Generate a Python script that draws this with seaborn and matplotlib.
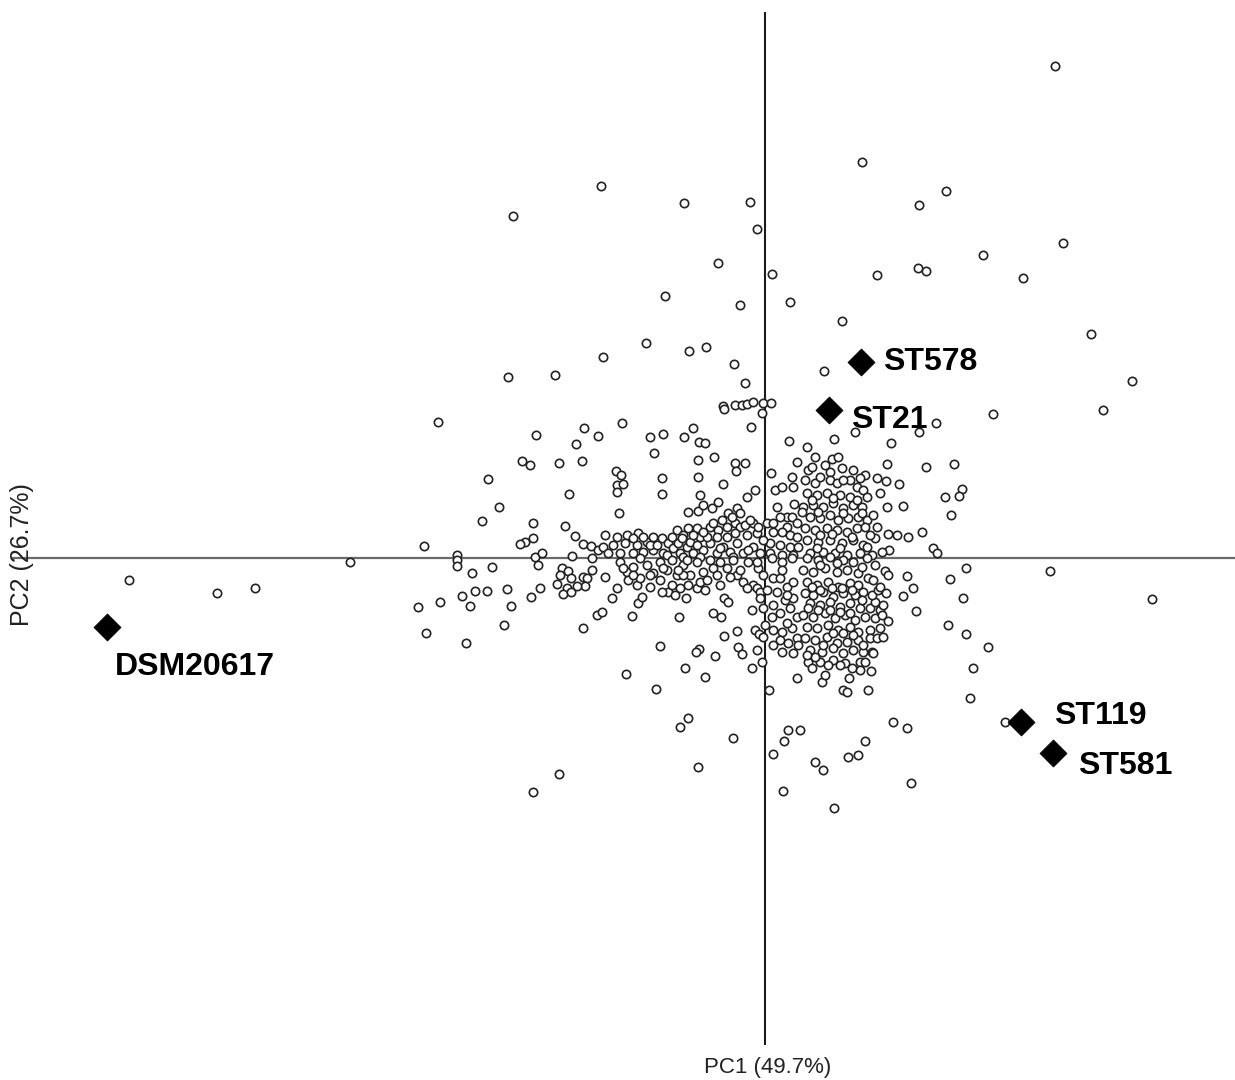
import matplotlib
matplotlib.use("Agg")
import matplotlib.pyplot as plt
import seaborn as sns
import pandas as pd

# PCA scores (PC1, PC2) of the isolates, grouped by area of the score plot
outer_upper = [
    (2.90, 4.92), (0.97, 3.96), (-1.64, 3.72), (1.81, 3.67), (1.54, 3.53), (-0.81, 3.55),
    (-0.15, 3.56), (-2.52, 3.42), (-0.08, 3.29), (2.98, 3.15), (2.18, 3.03), (-0.47, 2.95),
    (0.07, 2.84), (1.53, 2.90), (1.61, 2.87), (1.12, 2.83), (2.58, 2.80), (-1.00, 2.62),
    (-0.25, 2.53), (0.25, 2.56), (0.77, 2.37), (3.26, 2.24), (-1.19, 2.15), (-0.76, 2.07),
    (-0.59, 2.11), (-1.62, 2.01), (-0.31, 1.94), (0.59, 1.87), (-2.57, 1.81), (-2.10, 1.83),
    (3.67, 1.77), (-0.20, 1.75), (3.38, 1.48), (2.28, 1.44),
]

upper_left = [
    (-3.27, 1.36), (-2.29, 1.23), (-1.81, 1.30), (-1.67, 1.22), (-1.89, 1.14), (-2.43, 0.97),
    (-2.35, 0.93), (-2.06, 0.95), (-1.83, 0.97), (-2.77, 0.79), (-1.96, 0.64), (-2.66, 0.51),
    (-2.83, 0.37), (-2.32, 0.35), (-2.00, 0.32), (-1.90, 0.22), (-2.32, 0.20), (-2.40, 0.16),
    (-2.45, 0.14), (-1.82, 0.14), (-1.74, 0.12), (-3.41, 0.12), (-3.08, 0.03), (-2.30, 0.01),
    (-2.23, 0.05), (-1.93, 0.02), (-1.73, 0.00), (-1.67, 0.08),
]

upper_mid = [
    (-0.42, 1.52), (-0.41, 1.49), (-0.30, 1.53), (-0.23, 1.53), (-0.18, 1.54), (-0.12, 1.56),
    (-0.02, 1.55), (0.06, 1.55), (-0.03, 1.45), (-1.43, 1.35), (-1.15, 1.21), (-1.02, 1.24),
    (-0.81, 1.21), (-0.72, 1.30), (-0.66, 1.16), (-0.60, 1.15), (-0.14, 1.31), (0.24, 1.17),
    (-1.11, 1.05), (-0.67, 0.98), (-0.51, 1.01), (-0.30, 0.95), (-0.20, 0.95), (-0.29, 0.87),
    (0.32, 0.96), (0.06, 0.85), (-1.49, 0.87), (-1.44, 0.83), (-1.48, 0.73), (-1.42, 0.74),
    (-1.48, 0.66), (-1.03, 0.80), (-0.67, 0.81), (-1.03, 0.64), (-0.42, 0.74), (-0.10, 0.68),
    (-0.18, 0.61), (0.10, 0.68), (0.17, 0.71), (0.27, 0.81), (0.28, 0.71), (-0.65, 0.63),
    (-1.46, 0.45), (-0.77, 0.46), (-0.67, 0.47), (-0.62, 0.53), (-0.53, 0.50), (-0.47, 0.56),
    (-0.37, 0.45), (-0.28, 0.50), (0.12, 0.51), (0.22, 0.41), (0.29, 0.54),
]

core_upper_left = [
    (-1.60, 0.23), (-1.52, 0.13), (-1.62, 0.11), (-1.38, 0.23), (-1.27, 0.25), (-1.40, 0.15),
    (-1.28, 0.13), (-1.18, 0.16), (-1.12, 0.21), (-1.03, 0.20), (-0.97, 0.15), (-0.88, 0.28),
    (-0.82, 0.23), (-0.77, 0.30), (-0.68, 0.30), (-0.65, 0.21), (-0.55, 0.31), (-0.47, 0.28),
    (-0.38, 0.31), (-0.30, 0.35), (-0.25, 0.31), (-0.20, 0.33), (-0.12, 0.35), (-0.08, 0.25),
    (-0.18, 0.23), (0.02, 0.35), (0.08, 0.35), (0.15, 0.41), (0.22, 0.31), (0.27, 0.41),
    (0.32, 0.35), (0.08, 0.26), (0.17, 0.26), (0.25, 0.23), (0.32, 0.21), (0.05, 0.15),
    (0.15, 0.13), (0.25, 0.11), (0.33, 0.11), (0.05, 0.05), (0.17, 0.03), (0.28, 0.03),
    (-1.57, 0.05), (-1.45, 0.05), (-1.32, 0.05), (-1.22, 0.06), (-1.12, 0.08), (-1.02, 0.05),
    (-0.92, 0.10), (-0.85, 0.05), (-0.78, 0.11), (-0.72, 0.05), (-0.62, 0.08), (-0.55, 0.15),
    (-0.48, 0.05), (-0.42, 0.11), (-0.35, 0.06), (-0.28, 0.15), (-0.22, 0.05), (-0.12, 0.11),
    (-0.05, 0.05), (-1.15, 0.13), (-0.58, 0.21), (-0.48, 0.21), (-0.38, 0.21), (-0.30, 0.25),
    (-0.87, 0.15), (-0.75, 0.16), (-0.68, 0.13),
    (-1.48, 0.21), (-1.32, 0.20), (-1.22, 0.21), (-0.93, 0.21), (-0.83, 0.20), (-0.72, 0.23),
    (-0.62, 0.26), (-0.52, 0.35), (-0.43, 0.38), (-0.33, 0.41), (-0.25, 0.45), (-0.15, 0.38),
    (-0.07, 0.31), (-0.02, 0.18), (-0.98, 0.03), (-0.82, 0.01), (-0.65, 0.01), (-0.32, 0.01),
    (-0.17, 0.08), (-0.45, 0.10), (-1.08, 0.13),
]

upper_right = [
    (0.90, 1.26), (1.54, 1.26), (1.71, 1.35), (0.69, 1.19), (1.26, 1.15), (0.42, 1.11),
    (0.50, 1.01), (0.67, 0.99), (0.73, 1.01), (1.22, 0.94), (1.61, 0.91), (1.89, 0.94),
    (0.43, 0.88), (0.65, 0.86), (1.12, 0.80), (1.21, 0.77), (1.00, 0.83), (0.95, 0.80),
    (1.34, 0.74), (1.97, 0.69), (1.94, 0.62), (1.80, 0.61), (1.38, 0.52), (1.86, 0.43),
    (1.57, 0.26), (1.23, 0.24), (1.32, 0.23), (1.43, 0.21), (1.24, 0.08), (1.68, 0.10),
    (1.72, 0.05), (1.15, 0.65), (1.22, 0.51),
]

core_upper_right = [
    (0.40, 0.78), (0.50, 0.75), (0.55, 0.81), (0.65, 0.78), (0.72, 0.75), (0.85, 0.78),
    (0.92, 0.71), (0.98, 0.68), (1.02, 0.61), (0.42, 0.65), (0.52, 0.63), (0.62, 0.65),
    (0.75, 0.63), (0.85, 0.61), (0.38, 0.51), (0.48, 0.53), (0.58, 0.51), (0.68, 0.55),
    (0.78, 0.50), (0.88, 0.53), (0.97, 0.51), (0.45, 0.41), (0.55, 0.40), (0.65, 0.43),
    (0.73, 0.38), (0.83, 0.40), (0.93, 0.41), (1.02, 0.38), (1.08, 0.43), (0.40, 0.30),
    (0.50, 0.28), (0.62, 0.30), (0.72, 0.28), (0.82, 0.26), (0.92, 0.30), (1.00, 0.31),
    (1.12, 0.31), (1.10, 0.20), (0.42, 0.18), (0.53, 0.16), (0.65, 0.18), (0.77, 0.15),
    (0.88, 0.18), (0.98, 0.13), (0.45, 0.05), (0.58, 0.06), (0.70, 0.05), (0.82, 0.03),
    (0.95, 0.05), (1.07, 0.03), (1.17, 0.06),
    (0.47, 0.91), (0.60, 0.93), (0.77, 0.90), (0.88, 0.88), (0.78, 0.78), (0.47, 0.58),
    (0.68, 0.60), (0.92, 0.58), (0.53, 0.46), (0.78, 0.45), (0.97, 0.45), (0.55, 0.23),
    (0.67, 0.24), (0.87, 0.21), (1.05, 0.23), (0.52, 0.10), (0.75, 0.10), (1.02, 0.11),
    (0.37, 0.46),
]

lower_left = [
    (-3.08, -0.02), (-3.08, -0.08), (-2.93, -0.15), (-2.73, -0.09), (-2.27, -0.07),
    (-2.03, -0.10), (-1.97, -0.13), (-2.05, -0.17), (-1.94, -0.20), (-2.08, -0.26),
    (-1.98, -0.30), (-2.02, -0.36), (-1.94, -0.34), (-1.82, -0.19), (-1.78, -0.20),
    (-1.80, -0.28), (-1.88, -0.28), (-1.73, -0.12), (-3.03, -0.38), (-2.90, -0.33),
    (-2.78, -0.33), (-2.95, -0.48), (-3.25, -0.44), (-3.47, -0.49), (-2.58, -0.31),
    (-2.54, -0.48), (-2.34, -0.39), (-2.25, -0.30), (-2.61, -0.67), (-3.39, -0.75),
    (-2.99, -0.85), (-1.82, -0.70), (-1.68, -0.57),
]

lower_mid = [
    (-1.53, -0.40), (-1.48, -0.30), (-1.60, -0.19), (-1.27, -0.45), (-1.23, -0.39),
    (-1.33, -0.58), (-1.63, -0.54), (-0.86, -0.59), (-0.79, -0.40), (-0.52, -0.55),
    (-0.44, -0.59), (-0.41, -0.40), (-0.37, -0.44), (-0.13, -0.52), (-0.02, -0.50),
    (-0.28, -0.73), (-0.41, -0.78), (-0.10, -0.72), (-0.06, -0.76), (-0.02, -0.79),
    (-1.05, -0.88), (-0.66, -0.91), (-0.69, -0.94), (-0.50, -0.98), (-0.27, -0.89),
    (-0.23, -0.96), (-0.08, -0.92), (-0.03, -1.04), (-0.13, -1.10), (-0.80, -1.10),
    (-0.60, -1.19), (-1.39, -1.16), (-1.09, -1.31), (0.04, -1.32), (-0.77, -1.60),
    (-0.85, -1.69), (0.32, -1.20), (0.23, -1.72), (0.35, -1.72),
]

core_lower_left = [
    (-1.45, -0.04), (-1.38, -0.14), (-1.32, -0.09), (-1.25, 0.00), (-1.18, -0.07),
    (-1.12, -0.15), (-1.05, -0.04), (-0.98, -0.12), (-0.93, -0.02), (-0.88, -0.17),
    (-0.82, -0.07), (-0.75, -0.17), (-0.68, -0.04), (-0.62, -0.14), (-0.55, -0.02),
    (-0.52, -0.10), (-0.45, -0.04), (-0.38, -0.10), (-0.32, -0.02), (-0.28, -0.17),
    (-0.22, -0.24), (-0.17, -0.04), (-0.12, -0.27), (-0.07, -0.10), (-0.08, -0.04),
    (-1.37, -0.22), (-1.28, -0.27), (-1.15, -0.29), (-1.05, -0.22), (-0.97, -0.34),
    (-0.93, -0.27), (-0.85, -0.30), (-0.77, -0.27), (-0.68, -0.30), (-0.65, -0.24),
    (-0.82, -0.17), (-1.25, -0.20), (-0.35, -0.19), (-0.08, -0.30), (-0.05, -0.34),
    (-1.42, -0.10), (-1.32, -0.17), (-1.15, -0.17), (-1.02, -0.10), (-0.87, -0.12),
    (-0.78, -0.02), (-0.58, -0.22), (-0.48, -0.17), (-0.45, -0.27), (-0.25, -0.12),
    (-0.18, -0.30), (-0.02, -0.17), (-0.05, -0.40), (-1.03, -0.34), (-0.90, -0.37),
    (-0.60, -0.32),
]

core_lower_right = [
    (0.07, 0.00), (0.17, -0.04), (0.27, 0.00), (0.08, -0.20), (0.15, -0.20), (0.22, -0.29),
    (0.28, -0.24), (0.02, -0.32), (0.12, -0.34), (0.20, -0.42), (0.28, -0.40), (0.08, -0.47),
    (0.15, -0.55), (0.25, -0.50), (0.32, -0.59), (0.00, -0.67), (0.08, -0.72), (0.17, -0.74),
    (0.27, -0.70), (0.15, -0.82), (0.23, -0.85), (0.32, -0.80), (0.17, -0.94), (0.28, -0.95),
    (0.33, -0.87), (0.17, -0.12), (0.22, -0.37), (0.07, -0.59), (0.22, -0.65), (0.08, -0.87),
    (0.42, 0.00), (0.53, -0.02), (0.65, 0.01), (0.78, -0.02), (0.88, -0.04), (1.02, 0.00),
    (0.38, -0.12), (0.48, -0.14), (0.60, -0.10), (0.72, -0.14), (0.82, -0.12), (0.93, -0.15),
    (1.03, -0.20), (0.42, -0.24), (0.52, -0.27), (0.63, -0.24), (0.73, -0.29), (0.85, -0.25),
    (0.93, -0.27), (1.08, -0.22), (0.40, -0.35), (0.48, -0.37), (0.58, -0.34), (0.68, -0.39),
    (0.78, -0.35), (0.90, -0.37), (0.45, -0.45), (0.55, -0.47), (0.65, -0.44), (0.75, -0.49),
    (0.85, -0.45), (0.95, -0.50), (1.05, -0.50), (1.15, -0.52), (0.38, -0.57), (0.48, -0.59),
    (0.60, -0.55), (0.70, -0.60), (0.80, -0.57), (0.90, -0.62), (1.00, -0.59), (1.10, -0.60),
    (0.42, -0.69), (0.52, -0.70), (0.63, -0.67), (0.73, -0.72), (0.85, -0.69), (0.93, -0.74),
    (1.05, -0.72), (1.15, -0.70), (0.40, -0.80), (0.50, -0.82), (0.62, -0.79), (0.72, -0.85),
    (0.82, -0.84), (0.93, -0.82), (1.05, -0.80), (0.45, -0.92), (0.57, -0.94), (0.68, -0.90),
    (0.78, -0.95), (0.88, -0.92), (0.98, -0.94), (0.43, -1.04), (0.55, -1.04), (0.68, -1.02),
    (0.80, -1.05), (0.95, -1.04), (0.95, -1.12), (0.47, -1.10),
    (0.47, -0.29), (0.55, -0.32), (0.67, -0.30), (0.77, -0.30), (0.87, -0.32), (0.98, -0.34),
    (1.10, -0.44), (1.18, -0.47), (1.17, -0.57), (1.12, -0.80), (1.07, -0.94), (1.00, -1.04),
    (0.87, -1.10), (0.75, -1.07), (0.63, -1.07), (0.50, -0.99), (0.42, -0.97), (0.58, -0.87),
    (0.68, -0.75), (0.78, -0.75), (0.88, -0.77), (0.98, -0.87), (0.43, -0.50), (0.53, -0.52),
    (0.65, -0.52), (0.75, -0.54), (0.85, -0.55), (0.97, -0.42), (1.07, -0.37), (1.13, -0.32),
    (0.55, -0.07), (0.72, -0.05), (0.97, -0.09), (1.10, -0.07),
]

lower_right = [
    (2.01, -0.10), (1.85, -0.21), (1.98, -0.40), (1.83, -0.67), (2.01, -0.76), (2.23, -0.89),
    (2.08, -1.10), (2.05, -1.40), (1.42, -0.18), (1.48, -0.30), (1.38, -0.38), (1.51, -0.53),
    (1.20, -0.13), (1.23, -0.17), (1.15, -0.29), (1.21, -0.35), (1.23, -0.63), (1.18, -0.79),
    (1.08, -0.95), (1.06, -1.13), (1.03, -1.32), (0.78, -1.32), (0.82, -1.34), (0.84, -1.20),
    (0.57, -1.24), (0.60, -1.17), (1.28, -1.64), (1.42, -1.70),
]

bottom_tail = [
    (-0.32, -1.80), (-0.67, -2.09), (-2.06, -2.16), (-2.32, -2.34), (0.19, -1.83),
    (0.08, -1.96), (0.50, -2.04), (0.58, -2.12), (0.83, -1.99), (0.93, -1.97), (1.00, -1.83),
    (0.18, -2.33), (0.69, -2.50), (1.46, -2.25),
]

far_points = [
    (-6.36, -0.22), (-5.48, -0.35), (-5.10, -0.30), (-4.15, -0.04), (2.85, -0.13),
    (3.87, -0.41), (2.40, -1.64),
]

# Reference strains
ref_names = ["ST578", "ST21", "DSM20617", "ST119", "ST581"]
ref_pc1 = [0.96, 0.64, -6.58, 2.56, 2.88]
ref_pc2 = [1.96, 1.48, -0.69, -1.64, -1.95]
# label offsets (points) relative to each diamond
ref_offsets = [(16, 0), (16, -7), (6, -29), (24, 4), (18, -9)]

axis_x_label = "PC1 (49.7%)"
axis_y_label = "PC2 (26.7%)"

groups = [outer_upper, upper_left, upper_mid, core_upper_left, upper_right,
          core_upper_right, lower_left, lower_mid, core_lower_left,
          core_lower_right, lower_right, bottom_tail, far_points]
isolates = pd.DataFrame([p for g in groups for p in g], columns=["PC1", "PC2"])
refs = pd.DataFrame({"PC1": ref_pc1, "PC2": ref_pc2, "name": ref_names})

sns.set_style("white")
plt.rcParams["font.family"] = ["Liberation Sans", "DejaVu Sans"]

fig = plt.figure(figsize=(12.35, 10.8), dpi=100)
ax = fig.add_axes([0.0097, 0.0324, 0.9903, 0.9565])
ax.set_xlim(-7.53, 4.70)
ax.set_ylim(-4.87, 5.46)

ax.axhline(0, color="#6a6a6a", lw=1.6, zorder=1)
ax.axvline(0, color="#1a1a1a", lw=1.5, zorder=1)

sns.scatterplot(data=isolates, x="PC1", y="PC2", ax=ax, marker="o", s=36,
                facecolor="white", edgecolor="#222222", linewidth=1.2, zorder=2,
                legend=False)
sns.scatterplot(data=refs, x="PC1", y="PC2", ax=ax, marker="D", s=190,
                color="black", edgecolor="black", linewidth=0.5, zorder=3,
                legend=False)

for name, x, y, (dx, dy) in zip(ref_names, ref_pc1, ref_pc2, ref_offsets):
    ax.annotate(name, (x, y), xytext=(dx, dy), textcoords="offset points",
                ha="left", va="center", fontsize=23, fontweight="bold",
                color="black", zorder=4)

ax.set_axis_off()

fig.text(768 / 1235, 1 - 1067 / 1080, axis_x_label, ha="center", va="center",
         fontsize=16, color="#222222")
fig.text(22 / 1235, 1 - 555 / 1080, axis_y_label, ha="center", va="center",
         rotation=90, fontsize=18, color="#222222")

fig.savefig("out.png", dpi=100)
